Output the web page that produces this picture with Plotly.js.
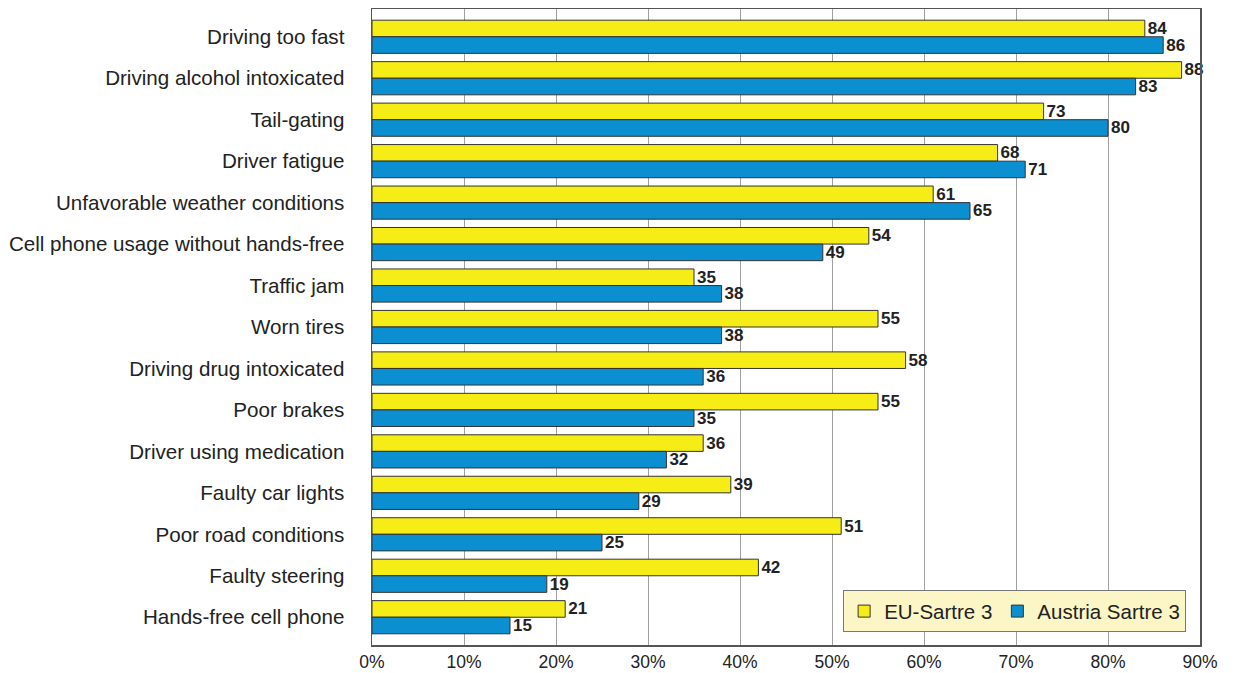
<!DOCTYPE html>
<html>
<head>
<meta charset="utf-8">
<script src="https://cdn.plot.ly/plotly-3.0.1.min.js"></script>
<style>html,body{margin:0;padding:0;background:#fff;}#chart{width:1234px;height:673px;}</style>
</head>
<body>
<div id="chart"></div>
<script>
const categories = [
  "Driving too fast",
  "Driving alcohol intoxicated",
  "Tail-gating",
  "Driver fatigue",
  "Unfavorable weather conditions",
  "Cell phone usage without hands-free",
  "Traffic jam",
  "Worn tires",
  "Driving drug intoxicated",
  "Poor brakes",
  "Driver using medication",
  "Faulty car lights",
  "Poor road conditions",
  "Faulty steering",
  "Hands-free cell phone"
];
const euSartre3 = [84, 88, 73, 68, 61, 54, 35, 55, 58, 55, 36, 39, 51, 42, 21];
const austriaSartre3 = [86, 83, 80, 71, 65, 49, 38, 38, 36, 35, 32, 29, 25, 19, 15];
const seriesNames = ["EU-Sartre 3", "Austria Sartre 3"];
const tickValues = [0, 10, 20, 30, 40, 50, 60, 70, 80, 90];

const font = "Liberation Sans, Arial, sans-serif";
const mk = (name, vals, color) => ({
  type: "bar",
  orientation: "h",
  name: name,
  y: categories,
  x: vals,
  marker: {color: color, line: {color: "#333333", width: 1}},
  text: vals.map(String),
  textposition: "outside",
  constraintext: "none",
  cliponaxis: false,
  textfont: {family: font, size: 17, color: "#222222", weight: "bold"},
  hoverinfo: "x+y"
});
const data = [
  mk(seriesNames[0], euSartre3, "#F6EC16"),
  mk(seriesNames[1], austriaSartre3, "#0B8FD0")
];
const n = categories.length;
const layout = {
  width: 1234, height: 673,
  margin: {l: 372, r: 34, t: 9, b: 28},
  paper_bgcolor: "#ffffff",
  plot_bgcolor: "#ffffff",
  barmode: "group",
  bargap: 0.2,
  bargroupgap: 0,
  showlegend: true,
  legend: {
    orientation: "h",
    x: 0.569, y: 0.02, xanchor: "left", yanchor: "bottom",
    bgcolor: "#FCF6C6", bordercolor: "#777777", borderwidth: 1,
    font: {family: font, size: 20.5, color: "#222222"},
    itemwidth: 30
  },
  xaxis: {
    range: [0, 90],
    tickvals: tickValues,
    ticktext: tickValues.map(v => v + "%"),
    showgrid: true, gridcolor: "#a0a0a0", gridwidth: 1,
    showline: true, linecolor: "#555555", linewidth: 1.5, mirror: true,
    zeroline: false,
    ticks: "",
    tickfont: {family: font, size: 17.5, color: "#222222"}
  },
  yaxis: {
    range: [n - 0.5 + 0.17, -0.5 - 0.17],
    showline: true, linecolor: "#555555", linewidth: 1.5, mirror: true,
    showgrid: false, zeroline: false,
    ticks: "", ticklabelstandoff: 22,
    tickfont: {family: font, size: 20.6, color: "#222222"}
  }
};
Plotly.newPlot("chart", data, layout, {displayModeBar: false, staticPlot: true});
</script>
</body>
</html>
